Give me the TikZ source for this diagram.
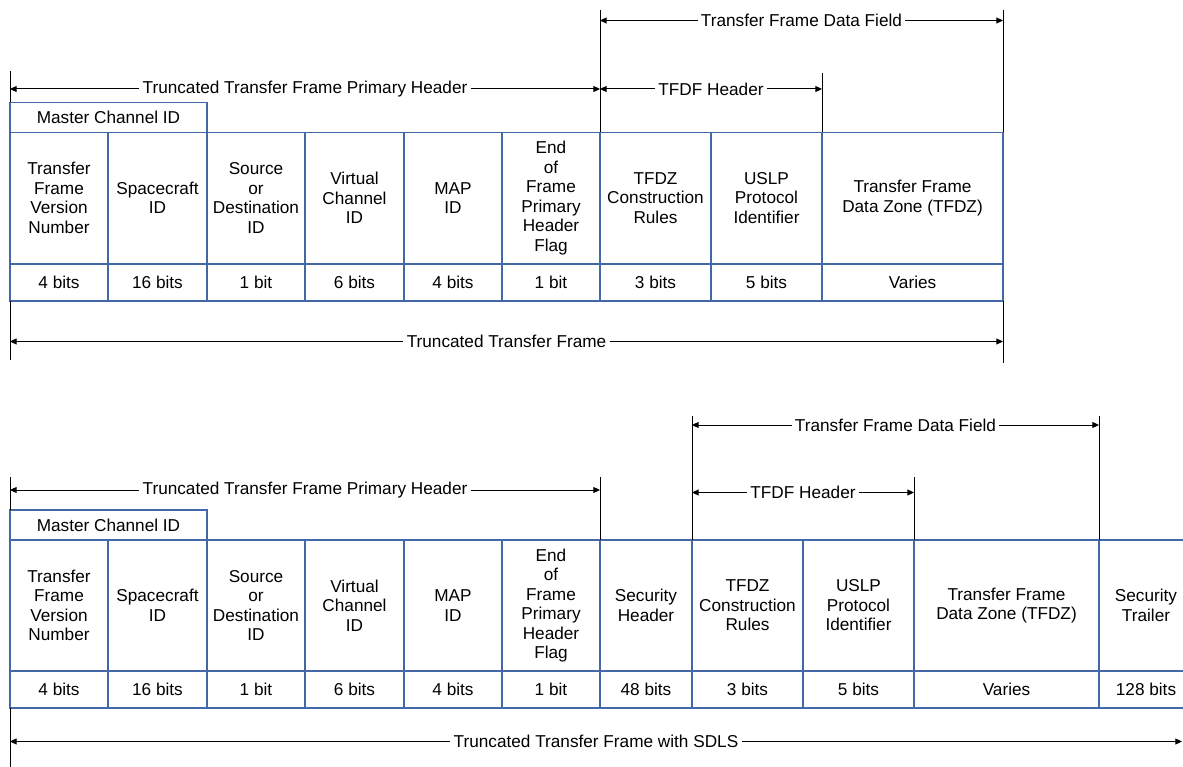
\documentclass[tikz,border=0pt]{standalone}
\usepackage{fontspec}
\setmainfont{Liberation Sans}
\usetikzlibrary{arrows.meta}

\definecolor{fieldblue}{RGB}{68,103,168}
\newcommand{\fieldfont}{\fontsize{12.9}{14.6}\selectfont}

\tikzset{
  field/.style={draw=fieldblue, line width=1pt, anchor=north west, outer sep=0pt,
    inner sep=0pt, align=center, font=\fieldfont},
  cell/.style={field, minimum height=98.25pt},
  bits/.style={field, minimum height=27.75pt},
  master/.style={field, minimum width=147.75pt, minimum height=22.5pt},
  tick/.style={black, line width=0.75pt},
  span/.style={black, line width=0.75pt,
    {Triangle[length=5pt,width=4.5pt]}-{Triangle[length=5pt,width=4.5pt]}},
  spantext/.style={fill=white, inner xsep=2.5pt, inner ysep=0pt, font=\fieldfont}
}

\begin{document}
\begin{tikzpicture}[x=0.75pt, y=-0.75pt]
  \clip (0,0) rectangle (1183,767);

  % upper frame: truncated transfer frame
  \node[master] (mcidA) at (10,102.5) {Master Channel ID};
  \foreach \xa/\xb/\nm/\txt/\len in {
      10/108/tfvn/{Transfer\\Frame\\Version\\Number}/{4 bits},
      108/207/scid/{Spacecraft\\ID}/{16 bits},
      207/305/sdid/{Source\\or\\Destination\\ID}/{1 bit},
      305/404/vcid/{Virtual\\Channel\\ID}/{6 bits},
      404/502/mapid/{MAP\\ID}/{4 bits},
      502/600/eofph/{End\\of\\Frame\\Primary\\Header\\Flag}/{1 bit},
      600/711/tfdzcr/{TFDZ\\Construction\\Rules}/{3 bits},
      711/822/uslp/{USLP\\Protocol\\Identifier}/{5 bits},
      822/1003/tfdz/{Transfer Frame\\Data Zone (TFDZ)}/{Varies}}{
    \node[cell, minimum width={(\xb-\xa)*0.75pt}] (\nm A) at (\xa,132.5) {\txt};
    \node[bits, minimum width={(\xb-\xa)*0.75pt}] (\nm Ab) at (\xa,264) {\len};
  }

  \coordinate (phA) at (10,71);
  \coordinate (phAl) at (10,89);
  \coordinate (phAr) at (600,89);
  \coordinate (dfA) at (600,10);
  \coordinate (dfAl) at (600,20.5);
  \coordinate (dfAr) at (1003,20.5);
  \coordinate (dfAe) at (1003,10);
  \coordinate (thAr) at (822,89);
  \coordinate (thA) at (822,73);
  \coordinate (ttAl) at (10,341.5);
  \coordinate (ttAr) at (1003,341.5);
  \coordinate (ttA) at (10,360);
  \coordinate (ttAe) at (1003,363);

  \draw[tick] (phA) -- (mcidA.north west);
  \draw[tick] (dfA) -- (tfdzcrA.north west);
  \draw[tick] (dfAe) -- (tfdzA.north east);
  \draw[tick] (thA) -- (tfdzA.north west);
  \draw[tick] (tfvnAb.south west) -- (ttA);
  \draw[tick] (tfdzAb.south east) -- (ttAe);
  \draw[span] (phAl) -- node[spantext] (phAt) {Truncated Transfer Frame Primary Header} (phAr);
  \draw[span] (dfAl) -- node[spantext] (dfAt) {Transfer Frame Data Field} (dfAr);
  \draw[span] (phAr) -- node[spantext] (thAt) {TFDF Header} (thAr);
  \draw[span] (ttAl) -- node[spantext] (ttAt) {Truncated Transfer Frame} (ttAr);

  % lower frame: truncated transfer frame with SDLS
  \node[master] (mcidB) at (10,510) {Master Channel ID};
  \foreach \xa/\xb/\nm/\txt/\len in {
      10/108/tfvn/{Transfer\\Frame\\Version\\Number}/{4 bits},
      108/207/scid/{Spacecraft\\ID}/{16 bits},
      207/305/sdid/{Source\\or\\Destination\\ID}/{1 bit},
      305/404/vcid/{Virtual\\Channel\\ID}/{6 bits},
      404/502/mapid/{MAP\\ID}/{4 bits},
      502/600/eofph/{End\\of\\Frame\\Primary\\Header\\Flag}/{1 bit},
      600/692/sechdr/{Security\\Header}/{48 bits},
      692/803/tfdzcr/{TFDZ\\Construction\\Rules}/{3 bits},
      803/914/uslp/{USLP\\Protocol\\Identifier}/{5 bits},
      914/1099/tfdz/{Transfer Frame\\Data Zone (TFDZ)}/{Varies},
      1099/1193/sectrl/{Security\\Trailer}/{128 bits}}{
    \node[cell, minimum width={(\xb-\xa)*0.75pt}] (\nm B) at (\xa,540) {\txt};
    \node[bits, minimum width={(\xb-\xa)*0.75pt}] (\nm Bb) at (\xa,671) {\len};
  }

  \coordinate (phB) at (10,477);
  \coordinate (phBl) at (10,490);
  \coordinate (phBr) at (600,490);
  \coordinate (phBe) at (600,477);
  \coordinate (dfB) at (692,416);
  \coordinate (dfBl) at (692,425);
  \coordinate (dfBr) at (1099,425);
  \coordinate (dfBe) at (1099,416);
  \coordinate (thBl) at (692,492.5);
  \coordinate (thBr) at (914,492.5);
  \coordinate (thB) at (914,477);
  \coordinate (ttBl) at (10,741.5);
  \coordinate (ttBr) at (1182,741.5);
  \coordinate (ttB) at (10,767);

  \draw[tick] (phB) -- (mcidB.north west);
  \draw[tick] (phBe) -- (sechdrB.north west);
  \draw[tick] (dfB) -- (tfdzcrB.north west);
  \draw[tick] (dfBe) -- (sectrlB.north west);
  \draw[tick] (thB) -- (tfdzB.north west);
  \draw[tick] (tfvnBb.south west) -- (ttB);
  \draw[span] (phBl) -- node[spantext] (phBt) {Truncated Transfer Frame Primary Header} (phBr);
  \draw[span] (dfBl) -- node[spantext] (dfBt) {Transfer Frame Data Field} (dfBr);
  \draw[span] (thBl) -- node[spantext] (thBt) {TFDF Header} (thBr);
  \draw[span] (ttBl) -- node[spantext] (ttBt) {Truncated Transfer Frame with SDLS} (ttBr);
\end{tikzpicture}
\end{document}
